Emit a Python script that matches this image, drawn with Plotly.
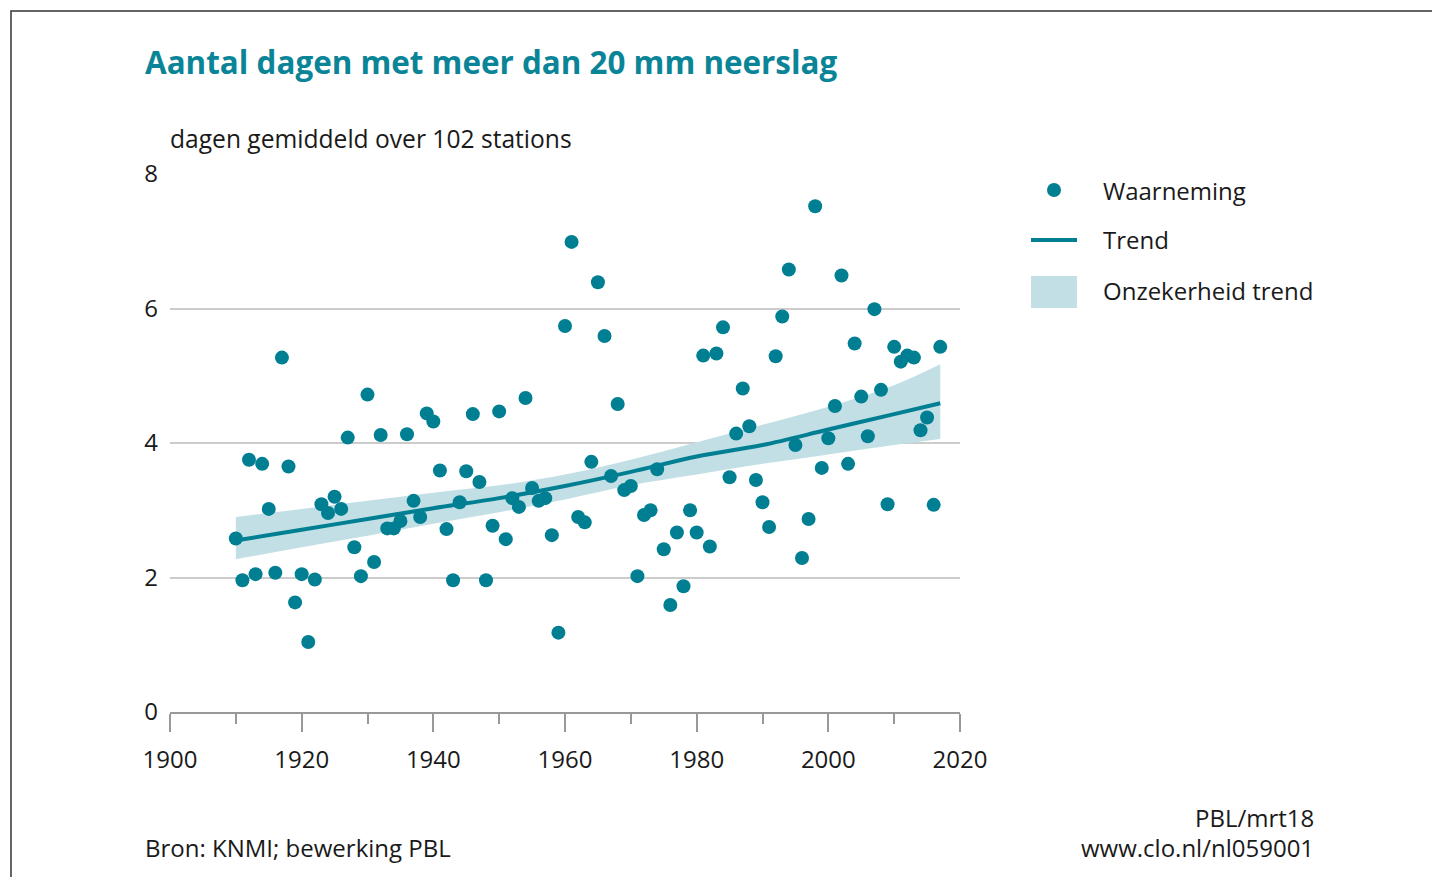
import plotly.graph_objects as go

# ---------------- data ----------------
years = list(range(1910, 2018))
waarneming = [
    2.58, 1.96, 3.75, 2.05, 3.69, 3.02, 2.07, 5.27, 3.65, 1.63,
    2.05, 1.04, 1.97, 3.09, 2.96, 3.20, 3.02, 4.08, 2.45, 2.02,
    4.72, 2.23, 4.12, 2.73, 2.73, 2.84, 4.13, 3.14, 2.90, 4.44,
    4.32, 3.59, 2.72, 1.96, 3.12, 3.58, 4.43, 3.42, 1.96, 2.77,
    4.47, 2.57, 3.18, 3.05, 4.67, 3.33, 3.14, 3.18, 2.63, 1.18,
    5.74, 6.99, 2.90, 2.82, 3.72, 6.39, 5.59, 3.51, 4.58, 3.30,
    3.36, 2.02, 2.93, 3.00, 3.61, 2.42, 1.59, 2.67, 1.87, 3.00,
    2.67, 5.30, 2.46, 5.33, 5.72, 3.49, 4.14, 4.81, 4.25, 3.45,
    3.12, 2.75, 5.29, 5.88, 6.58, 3.97, 2.29, 2.87, 7.52, 3.63,
    4.07, 4.55, 6.49, 3.69, 5.48, 4.69, 4.10, 5.99, 4.79, 3.09,
    5.43, 5.21, 5.30, 5.27, 4.19, 4.38, 3.08, 5.43,
]
trend_years = [1910, 1920, 1930, 1940, 1950, 1960, 1970, 1980, 1990, 2000, 2010, 2017]
trend = [2.55, 2.71, 2.87, 3.03, 3.18, 3.36, 3.57, 3.80, 3.97, 4.20, 4.43, 4.59]
trend_upper = [2.90, 3.02, 3.14, 3.26, 3.37, 3.53, 3.75, 4.01, 4.27, 4.54, 4.86, 5.17]
trend_lower = [2.27, 2.45, 2.62, 2.80, 2.97, 3.16, 3.37, 3.53, 3.69, 3.83, 3.97, 4.06]

x_ticks = [1900, 1920, 1940, 1960, 1980, 2000, 2020]
y_ticks = [0, 2, 4, 6, 8]

title = "Aantal dagen met meer dan 20 mm neerslag"
y_title = "dagen gemiddeld over 102 stations"
legend_labels = ["Waarneming", "Trend", "Onzekerheid trend"]
source = "Bron: KNMI; bewerking PBL"
credit_1 = "PBL/mrt18"
credit_2 = "www.clo.nl/nl059001"

# ---------------- style ----------------
TEAL = "#007f93"
TITLE_TEAL = "#0a8598"
BAND = "#c2dfe6"
TEXT = "#1a1a1a"
FONT = "Open Sans"
FS = 24

W, H = 1432, 877
L, R, T, B = 170, 960, 174, 712   # plot area in pixels


def px(x):
    return (x - L) / (R - L)


def py(y):
    return (B - y) / (B - T)


fig = go.Figure()

fig.add_trace(go.Scatter(
    x=trend_years, y=trend_lower, mode="lines",
    line=dict(width=0, shape="spline", color=BAND),
    hoverinfo="skip", showlegend=False,
))
fig.add_trace(go.Scatter(
    x=trend_years, y=trend_upper, mode="lines",
    fill="tonexty", fillcolor=BAND,
    line=dict(width=0, shape="spline", color=BAND),
    hoverinfo="skip", showlegend=False,
))
fig.add_trace(go.Scatter(
    x=trend_years, y=trend, mode="lines",
    line=dict(color=TEAL, width=4, shape="spline"),
    showlegend=False,
))
fig.add_trace(go.Scatter(
    x=years, y=waarneming, mode="markers",
    marker=dict(color=TEAL, size=14, line=dict(width=0)),
    showlegend=False,
))

shapes = [
    # outer frame
    dict(type="rect", xref="paper", yref="paper",
         x0=px(11), x1=px(1445), y0=py(11), y1=py(895),
         line=dict(color="#333333", width=1.5), layer="below"),
    # legend: line
    dict(type="line", xref="paper", yref="paper",
         x0=px(1031), x1=px(1077), y0=py(240), y1=py(240),
         line=dict(color=TEAL, width=4)),
    # legend: band patch
    dict(type="rect", xref="paper", yref="paper",
         x0=px(1031), x1=px(1077), y0=py(308), y1=py(276),
         fillcolor=BAND, line=dict(width=0)),
    # legend: dot
    dict(type="circle", xref="paper", yref="paper",
         x0=px(1047), x1=px(1061), y0=py(197), y1=py(183),
         fillcolor=TEAL, line=dict(width=0)),
]

annotations = [
    dict(text=f"<b>{title}</b>", x=px(143), y=py(61), xanchor="left", yanchor="middle",
         font=dict(size=31.4, color=TITLE_TEAL, family=FONT)),
    dict(text=y_title, x=px(168), y=py(139), xanchor="left", yanchor="middle",
         font=dict(size=24.6, color=TEXT, family=FONT)),
    dict(text=legend_labels[0], x=px(1101), y=py(190), xanchor="left", yanchor="middle",
         font=dict(size=FS, color=TEXT, family=FONT)),
    dict(text=legend_labels[1], x=px(1101), y=py(240), xanchor="left", yanchor="middle",
         font=dict(size=FS, color=TEXT, family=FONT)),
    dict(text=legend_labels[2], x=px(1101), y=py(290), xanchor="left", yanchor="middle",
         font=dict(size=FS, color=TEXT, family=FONT)),
    dict(text=source, x=px(143), y=py(847), xanchor="left", yanchor="middle",
         font=dict(size=FS, color=TEXT, family=FONT)),
    dict(text=credit_1, x=px(1316), y=py(817), xanchor="right", yanchor="middle",
         font=dict(size=FS, color=TEXT, family=FONT)),
    dict(text=credit_2, x=px(1316), y=py(847), xanchor="right", yanchor="middle",
         font=dict(size=FS, color=TEXT, family=FONT)),
]
for a in annotations:
    a.update(xref="paper", yref="paper", showarrow=False)

fig.update_layout(
    width=W, height=H,
    margin=dict(l=L, r=W - R, t=T, b=H - B, pad=0),
    paper_bgcolor="white", plot_bgcolor="white",
    font=dict(family=FONT, size=FS, color=TEXT),
    showlegend=False,
    shapes=shapes, annotations=annotations,
    xaxis=dict(
        range=[1900, 2020], tickvals=x_ticks, ticktext=[str(v) for v in x_ticks],
        showgrid=False, zeroline=False,
        showline=True, linecolor="#999999", linewidth=1.5,
        ticks="outside", ticklen=18, tickcolor="#999999", tickwidth=1.5,
        ticklabelstandoff=7,
        minor=dict(dtick=10, tick0=1900, ticks="outside", ticklen=10,
                   tickcolor="#999999", tickwidth=1.5, showgrid=False),
        tickfont=dict(size=FS, color=TEXT, family=FONT),
        fixedrange=True,
    ),
    yaxis=dict(
        range=[0, 8], tickvals=y_ticks, ticktext=[str(v) for v in y_ticks],
        showgrid=True, gridcolor="#cccccc", gridwidth=1.5,
        zeroline=False, showline=False, ticks="",
        ticklabelstandoff=11,
        tickfont=dict(size=FS, color=TEXT, family=FONT),
        fixedrange=True,
    ),
)

fig.write_html(
    "out.html",
    config={"displayModeBar": False},
    post_script="document.body.style.margin='0';document.body.style.overflow='hidden';",
)
